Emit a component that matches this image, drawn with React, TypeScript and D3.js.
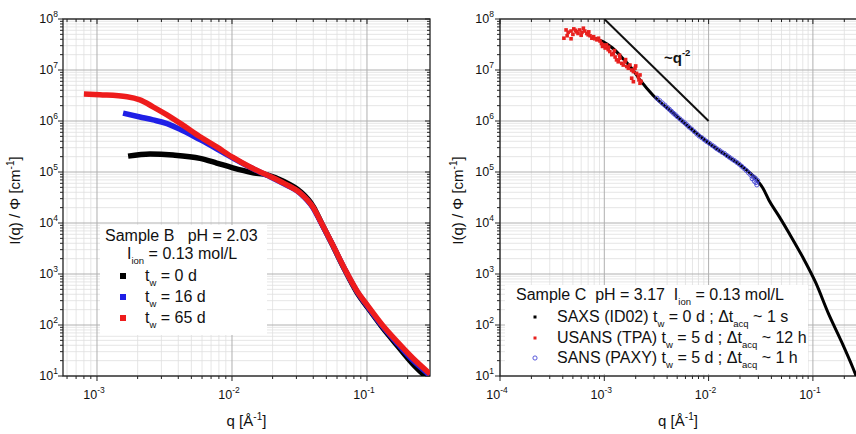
import React from 'react';
import * as d3 from 'd3';

const FONT = '"Liberation Sans", Arial, Helvetica, sans-serif';

// ---------- Left panel: Sample B (q [1/Å], I [1/cm]) ----------
const sampleB_tw0: [number, number][] = [
  [1.7e-3, 2.05e5], [2.47e-3, 2.25e5], [3.66e-3, 2.15e5], [5.8e-3, 1.85e5], [7.7e-3, 1.5e5],
  [1.0e-2, 1.22e5], [1.43e-2, 9.7e4], [1.82e-2, 8.8e4], [2.4e-2, 6.6e4], [3.2e-2, 4.15e4],
  [4.0e-2, 2.1e4], [4.6e-2, 1.0e4], [5.5e-2, 3.9e3], [6.8e-2, 1.25e3], [8.5e-2, 4.2e2],
  [0.1, 230], [0.13, 90], [0.17, 38], [0.22, 17], [0.27, 10],
];
const sampleB_tw16: [number, number][] = [
  [1.56e-3, 1.43e6], [2.08e-3, 1.2e6], [2.6e-3, 1.05e6], [3.3e-3, 8.9e5], [4.3e-3, 6.5e5],
  [5.8e-3, 4.3e5], [7.7e-3, 2.85e5], [1.01e-2, 1.9e5], [1.36e-2, 1.24e5], [1.82e-2, 8.6e4],
  [2.39e-2, 6.0e4], [3.19e-2, 3.85e4], [3.98e-2, 2.0e4], [4.6e-2, 9.8e3], [5.5e-2, 3.95e3],
  [6.8e-2, 1.28e3], [8.5e-2, 4.4e2], [0.1, 240], [0.13, 95], [0.17, 42], [0.22, 20], [0.29, 10.5],
];
const sampleB_tw65: [number, number][] = [
  [8.0e-4, 3.4e6], [1.05e-3, 3.28e6], [1.67e-3, 3.0e6], [2.08e-3, 2.6e6], [2.6e-3, 1.9e6],
  [3.3e-3, 1.32e6], [4.3e-3, 8.4e5], [5.8e-3, 4.9e5], [7.7e-3, 3.1e5], [1.01e-2, 1.95e5],
  [1.36e-2, 1.25e5], [1.82e-2, 8.7e4], [2.39e-2, 6.1e4], [3.19e-2, 3.9e4], [3.98e-2, 2.05e4],
  [4.6e-2, 1.0e4], [5.5e-2, 4.0e3], [6.8e-2, 1.3e3], [8.5e-2, 4.5e2], [0.1, 250], [0.13, 100],
  [0.17, 45], [0.22, 22], [0.293, 11],
];

// ---------- Right panel: Sample C ----------
const saxsC: [number, number][] = [
  [7.8e-4, 4.3e7], [9.7e-4, 3.6e7], [1.2e-3, 2.7e7], [1.5e-3, 1.7e7], [1.85e-3, 1.05e7],
  [2.2e-3, 6.4e6], [2.93e-3, 3.2e6], [4.56e-3, 1.44e6], [6.64e-3, 7.3e5], [1.0e-2, 3.7e5],
  [1.37e-2, 2.35e5], [2.0e-2, 1.38e5], [2.91e-2, 6.9e4], [3.3e-2, 4.9e4], [3.79e-2, 2.8e4],
  [4.74e-2, 1.35e4], [5.92e-2, 6.3e3], [8.03e-2, 2.1e3], [0.107, 660], [0.14, 173],
  [0.19, 45], [0.24, 15], [0.26, 10],
];
const usansC: [number, number][] = [
  [4.1e-4, 4.2e7], [4.3e-4, 6.1e7], [4.4e-4, 4.7e7], [4.5e-4, 5.5e7], [4.8e-4, 5.8e7],
  [4.8e-4, 4.1e7], [5.0e-4, 5.0e7], [5.1e-4, 6.4e7], [5.3e-4, 6.0e7], [5.4e-4, 5.6e7],
  [5.6e-4, 5.2e7], [5.8e-4, 6.1e7], [6.0e-4, 4.8e7], [6.1e-4, 5.5e7], [6.3e-4, 6.6e7],
  [6.5e-4, 5.8e7], [6.8e-4, 5.2e7], [7.0e-4, 4.9e7], [7.1e-4, 5.6e7], [7.3e-4, 4.7e7],
  [7.6e-4, 4.2e7], [7.9e-4, 4.5e7], [8.1e-4, 4.1e7], [8.5e-4, 3.9e7], [8.8e-4, 4.2e7],
  [9.1e-4, 3.7e7], [9.4e-4, 3.3e7], [9.6e-4, 2.9e7], [9.8e-4, 3.1e7], [1.02e-3, 2.7e7],
  [1.05e-3, 3.1e7], [1.09e-3, 2.5e7], [1.1e-3, 2.8e7], [1.13e-3, 2.3e7], [1.18e-3, 2.0e7],
  [1.22e-3, 2.1e7], [1.25e-3, 2.4e7], [1.27e-3, 1.8e7], [1.31e-3, 1.58e7], [1.36e-3, 1.45e7],
  [1.4e-3, 1.95e7], [1.41e-3, 1.7e7], [1.47e-3, 1.35e7], [1.52e-3, 1.25e7], [1.58e-3, 1.45e7],
  [1.6e-3, 1.6e7], [1.64e-3, 1.17e7], [1.7e-3, 1.08e7], [1.76e-3, 1.25e7], [1.83e-3, 1.0e7],
  [1.83e-3, 6.9e6], [1.9e-3, 9.3e6], [1.9e-3, 5.9e6], [1.97e-3, 1.08e7], [2.0e-3, 1.2e7],
  [2.04e-3, 8.6e6], [2.12e-3, 7.4e6], [2.15e-3, 6.4e6], [2.2e-3, 8.0e6], [2.2e-3, 5.5e6],
  [2.25e-3, 6.0e6],
];
const sansC: [number, number][] = [
  [3.2e-3, 2.8e6], [3.4e-3, 2.5e6], [3.6e-3, 2.25e6], [3.8e-3, 2.05e6], [4.0e-3, 1.85e6],
  [4.2e-3, 1.7e6], [4.4e-3, 1.55e6], [4.6e-3, 1.42e6], [4.8e-3, 1.32e6], [5.0e-3, 1.22e6],
  [5.3e-3, 1.1e6], [5.6e-3, 1.0e6], [5.9e-3, 9.2e5], [6.2e-3, 8.4e5], [6.5e-3, 7.6e5],
  [6.9e-3, 6.9e5], [7.3e-3, 6.2e5], [7.7e-3, 5.6e5], [8.1e-3, 5.1e5], [8.6e-3, 4.7e5],
  [9.1e-3, 4.3e5], [9.6e-3, 3.95e5], [1.02e-2, 3.65e5], [1.08e-2, 3.35e5], [1.14e-2, 3.1e5],
  [1.2e-2, 2.85e5], [1.27e-2, 2.65e5], [1.34e-2, 2.45e5], [1.42e-2, 2.3e5], [1.5e-2, 2.1e5],
  [1.58e-2, 1.95e5], [1.67e-2, 1.8e5], [1.76e-2, 1.68e5], [1.86e-2, 1.55e5], [1.96e-2, 1.43e5],
  [2.07e-2, 1.3e5], [2.18e-2, 1.18e5], [2.3e-2, 1.07e5], [2.42e-2, 9.6e4], [2.55e-2, 8.6e4],
  [2.62e-2, 7.4e4], [2.68e-2, 8.0e4], [2.75e-2, 6.6e4], [2.8e-2, 7.6e4], [2.85e-2, 6.2e4],
  [2.9e-2, 5.6e4], [2.95e-2, 6.8e4],
];
// guide line ~q^-2
const slopeGuide: [number, number][] = [[1e-3, 1e8], [1e-2, 1e6]];

// ---------- Axes ----------
const leftXExps = [-3, -2, -1];
const rightXExps = [-4, -3, -2, -1];
const yExps = [1, 2, 3, 4, 5, 6, 7, 8];

const TOP = 19;
const BOTTOM = 376;

const yScale = d3.scaleLog().domain([10, 1e8]).range([BOTTOM, TOP]);
const xLeft = d3.scaleLog().domain([5.6e-4, 0.293]).range([63, 430]);
const xRight = d3.scaleLog().domain([1e-4, 0.3]).range([500, 500 + 104.3 * Math.log10(3000)]);

function logTicks(domain: number[]) {
  const [a, b] = domain;
  const major: number[] = [];
  const minor: number[] = [];
  for (let e = Math.floor(Math.log10(a)); e <= Math.ceil(Math.log10(b)); e++) {
    for (let m = 1; m <= 9; m++) {
      const v = m * Math.pow(10, e);
      if (v < a * 0.9999 || v > b * 1.0001) continue;
      if (m === 1) major.push(v);
      else minor.push(v);
    }
  }
  return { major, minor };
}

const Pow10 = ({ x, y, exp, anchor }: { x: number; y: number; exp: number; anchor: string }) => (
  <text x={x} y={y} textAnchor={anchor} fontSize={12.5} fontFamily={FONT} fill="#111">
    10<tspan dy={-6} fontSize={8.5}>{exp}</tspan>
  </text>
);

function Panel({ x, xExps, yLabelRight, yTitleX }: any) {
  const xd = x.domain();
  const [x0, x1] = x.range();
  const xt = logTicks(xd);
  const yt = logTicks(yScale.domain());
  const gridMajor = '#b0b0b0';
  const gridMinor = '#e0e0e0';
  const axis = '#222';
  return (
    <g>
      <rect x={x0} y={TOP} width={x1 - x0} height={BOTTOM - TOP} fill="#fff" />
      {xt.minor.map((v: number, i: number) => (
        <line key={'xm' + i} x1={x(v)} x2={x(v)} y1={TOP} y2={BOTTOM} stroke={gridMinor} strokeWidth={0.8} />
      ))}
      {yt.minor.map((v, i) => (
        <line key={'ym' + i} x1={x0} x2={x1} y1={yScale(v)} y2={yScale(v)} stroke={gridMinor} strokeWidth={0.8} />
      ))}
      {xt.major.map((v: number, i: number) => (
        <line key={'xM' + i} x1={x(v)} x2={x(v)} y1={TOP} y2={BOTTOM} stroke={gridMajor} strokeWidth={1} />
      ))}
      {yt.major.map((v, i) => (
        <line key={'yM' + i} x1={x0} x2={x1} y1={yScale(v)} y2={yScale(v)} stroke={gridMajor} strokeWidth={1} />
      ))}
      {xt.minor.map((v: number, i: number) => (
        <g key={'xtm' + i}>
          <line x1={x(v)} x2={x(v)} y1={BOTTOM} y2={BOTTOM + 3} stroke={axis} />
          <line x1={x(v)} x2={x(v)} y1={TOP} y2={TOP + 3} stroke={axis} />
        </g>
      ))}
      {xt.major.map((v: number, i: number) => (
        <g key={'xtM' + i}>
          <line x1={x(v)} x2={x(v)} y1={BOTTOM} y2={BOTTOM + 5} stroke={axis} />
          <line x1={x(v)} x2={x(v)} y1={TOP} y2={TOP + 5} stroke={axis} />
        </g>
      ))}
      {yt.minor.map((v, i) => (
        <g key={'ytm' + i}>
          <line x1={x0 - 3} x2={x0} y1={yScale(v)} y2={yScale(v)} stroke={axis} />
          <line x1={x1 - 3} x2={x1} y1={yScale(v)} y2={yScale(v)} stroke={axis} />
        </g>
      ))}
      {yt.major.map((v, i) => (
        <g key={'ytM' + i}>
          <line x1={x0 - 5} x2={x0} y1={yScale(v)} y2={yScale(v)} stroke={axis} />
          <line x1={x1 - 5} x2={x1} y1={yScale(v)} y2={yScale(v)} stroke={axis} />
        </g>
      ))}
      <rect x={x0} y={TOP} width={x1 - x0} height={BOTTOM - TOP} fill="none" stroke={axis} strokeWidth={1.3} />
      {xExps.map((e: number) => (
        <Pow10 key={'xl' + e} x={x(Math.pow(10, e)) - 3} y={399} exp={e} anchor="middle" />
      ))}
      {yExps.map((e) => (
        <Pow10 key={'yl' + e} x={yLabelRight - 5} y={yScale(Math.pow(10, e)) + 4} exp={e} anchor="end" />
      ))}
      <text x={(x0 + Math.min(x1, 856)) / 2} y={426} textAnchor="middle" fontSize={15} fontFamily={FONT} fill="#111">
        q [Å<tspan dy={-6} fontSize={10}>-1</tspan><tspan dy={6}>]</tspan>
      </text>
      <text transform={`translate(${yTitleX},${(TOP + BOTTOM) / 2 + 3}) rotate(-90)`} textAnchor="middle" fontSize={15} fontFamily={FONT} fill="#111">
        I(q) / Φ [cm<tspan dy={-6} fontSize={10}>-1</tspan><tspan dy={6}>]</tspan>
      </text>
    </g>
  );
}

export default function App() {
  const lineL = d3.line<[number, number]>().x((d) => xLeft(d[0])).y((d) => yScale(d[1])).curve(d3.curveMonotoneX);
  const lineR = d3.line<[number, number]>().x((d) => xRight(d[0])).y((d) => yScale(d[1])).curve(d3.curveMonotoneX);
  const legendRowsB = [
    { c: '#000000', t: '0 d' },
    { c: '#1f1fe6', t: '16 d' },
    { c: '#ee1c1c', t: '65 d' },
  ];
  return (
    <div style={{ position: 'absolute', left: 0, top: 0 }}>
      <svg width={856} height={434} style={{ display: 'block', background: '#fff' }}>
        <defs>
          <clipPath id="clipL"><rect x={63} y={TOP} width={367} height={BOTTOM - TOP} /></clipPath>
          <clipPath id="clipR"><rect x={500} y={TOP} width={400} height={BOTTOM - TOP} /></clipPath>
        </defs>
        {/* LEFT PANEL */}
        <Panel x={xLeft} xExps={leftXExps} yLabelRight={63} yTitleX={20} />
        <rect x={100} y={225} width={167} height={110} fill="#fff" />
        <g clipPath="url(#clipL)" fill="none" strokeLinejoin="round">
          <path d={lineL(sampleB_tw0) || ''} stroke="#000" strokeWidth={5.5} />
          <path d={lineL(sampleB_tw16) || ''} stroke="#1f1fe6" strokeWidth={5.5} />
          <path d={lineL(sampleB_tw65) || ''} stroke="#ee1c1c" strokeWidth={5.5} />
        </g>
        <g fontFamily={FONT} fontSize={16} fill="#111">
          <text x={105} y={241} style={{ whiteSpace: 'pre' }}>Sample B   pH = 2.03</text>
          <text x={127} y={259} style={{ whiteSpace: 'pre' }}>
            I<tspan dy={5} fontSize={9.5}>ion</tspan><tspan dy={-5}> = 0.13 mol/L</tspan>
          </text>
          {legendRowsB.map((r, i) => (
            <g key={i}>
              <rect x={120} y={273 + i * 21} width={6} height={6} fill={r.c} />
              <text x={145} y={281 + i * 21} style={{ whiteSpace: 'pre' }}>
                t<tspan dy={5} fontSize={9.5}>w</tspan><tspan dy={-5}> = {r.t}</tspan>
              </text>
            </g>
          ))}
        </g>

        {/* RIGHT PANEL */}
        <Panel x={xRight} xExps={rightXExps} yLabelRight={499} yTitleX={463} />
        <rect x={505} y={285} width={303} height={89} fill="#fff" />
        <g clipPath="url(#clipR)">
          <path d={lineR(slopeGuide) || ''} stroke="#111" strokeWidth={2} fill="none" />
          <path d={lineR(saxsC) || ''} stroke="#000" strokeWidth={3} fill="none" strokeLinejoin="round" />
          {usansC.map((d, i) => (
            <rect key={'u' + i} x={xRight(d[0]) - 1.8} y={yScale(d[1]) - 1.8} width={3.6} height={3.6} fill="#e8201e" />
          ))}
          {sansC.map((d, i) => (
            <circle key={'s' + i} cx={xRight(d[0])} cy={yScale(d[1])} r={2.1} fill="none" stroke="#4646d6" strokeWidth={0.9} />
          ))}
        </g>
        <text x={664} y={63} fontFamily={FONT} fontSize={15} fontWeight="bold" fill="#111">
          ~q<tspan dy={-7} fontSize={9.5}>-2</tspan>
        </text>
        <g fontFamily={FONT} fontSize={16} fill="#111">
          <text x={516} y={300} style={{ whiteSpace: 'pre' }}>
            Sample C  pH = 3.17  I<tspan dy={5} fontSize={9.5}>ion</tspan><tspan dy={-5}> = 0.13 mol/L</tspan>
          </text>
          <rect x={533.5} y={315.5} width={3} height={3} fill="#000" />
          <text x={557} y={322} style={{ whiteSpace: 'pre' }}>
            SAXS (ID02) t<tspan dy={5} fontSize={9.5}>w</tspan><tspan dy={-5}> = 0 d ; Δt</tspan><tspan dy={5} fontSize={9.5}>acq</tspan><tspan dy={-5}> ~ 1 s</tspan>
          </text>
          <rect x={533.5} y={336.5} width={3} height={3} fill="#e8201e" />
          <text x={557} y={343} style={{ whiteSpace: 'pre' }}>
            USANS (TPA) t<tspan dy={5} fontSize={9.5}>w</tspan><tspan dy={-5}> = 5 d ; Δt</tspan><tspan dy={5} fontSize={9.5}>acq</tspan><tspan dy={-5}> ~ 12 h</tspan>
          </text>
          <circle cx={535} cy={358} r={2.1} fill="none" stroke="#4646d6" strokeWidth={0.9} />
          <text x={557} y={363} style={{ whiteSpace: 'pre' }}>
            SANS (PAXY) t<tspan dy={5} fontSize={9.5}>w</tspan><tspan dy={-5}> = 5 d ; Δt</tspan><tspan dy={5} fontSize={9.5}>acq</tspan><tspan dy={-5}> ~ 1 h</tspan>
          </text>
        </g>
      </svg>
    </div>
  );
}
